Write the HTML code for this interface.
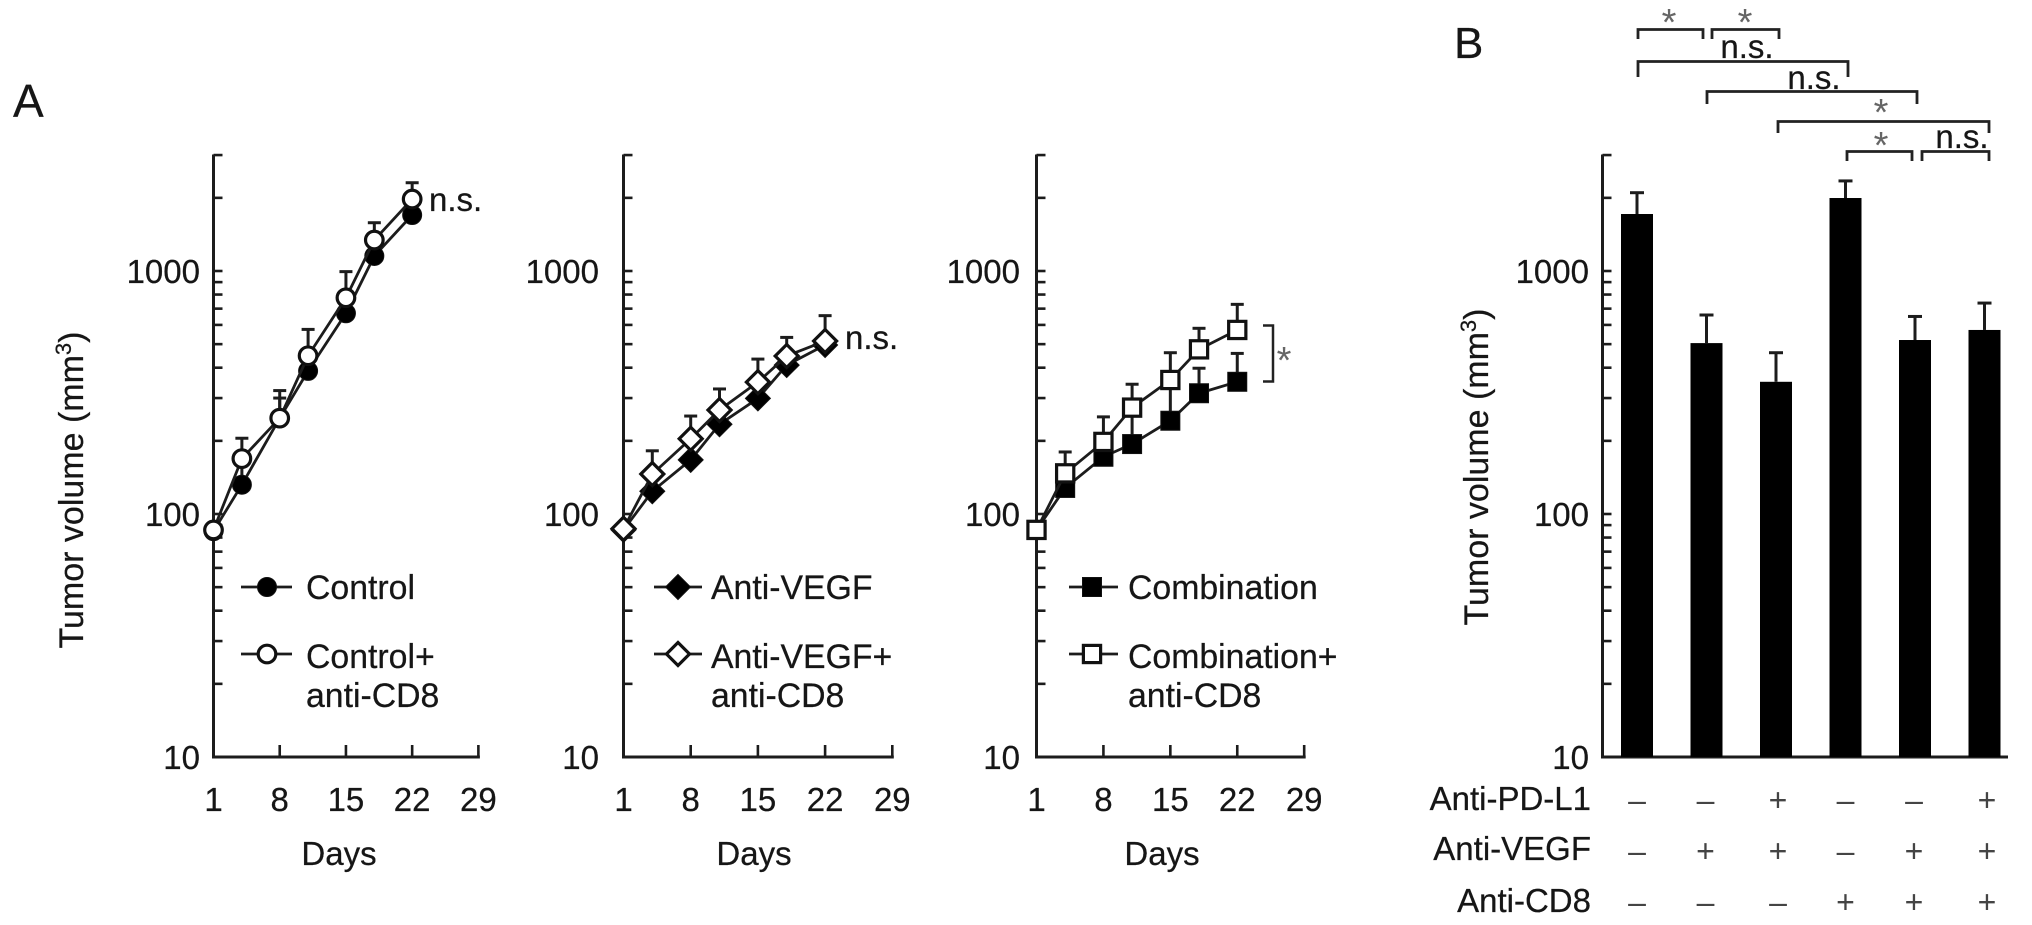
<!DOCTYPE html>
<html lang="en">
<head>
<meta charset="utf-8">
<title>Tumor volume charts</title>
<style>
html,body{margin:0;padding:0;background:#fff;}
svg{display:block;}
text{font-family:"Liberation Sans",Arial,sans-serif;fill:#161616;stroke:#161616;stroke-width:.25;}
</style>
</head>
<body>
<svg id="fig" xmlns="http://www.w3.org/2000/svg" width="2032" height="925" viewBox="0 0 2032 925">
  <rect x="0" y="0" width="2032" height="925" fill="#fff"/>
  <text x="13" y="117" font-size="46">A</text>
  <text x="1454" y="58" font-size="44">B</text>

  <text x="429" y="211" font-size="33">n.s.</text>
  <text x="845" y="349" font-size="33">n.s.</text>
  <path d="M1263 325.5H1273V381.5H1263" fill="none" stroke="#222" stroke-width="2.5"/>
  <text x="1284" y="373" font-size="38" text-anchor="middle" style="fill:#666;stroke:none">*</text>

  <g fill="none" stroke="#222" stroke-width="2.8">
    <path d="M1638 39V29.5H1703V39"/>
    <path d="M1712 39V29.5H1779V39"/>
    <path d="M1638 77V61.5H1848V77"/>
    <path d="M1707 104V91.5H1917V104"/>
    <path d="M1778 133V121.5H1989V133"/>
    <path d="M1847 161V151.5H1912V161"/>
    <path d="M1922 161V151.5H1989V161"/>
  </g>
  <text x="1669" y="35" font-size="38" text-anchor="middle" style="fill:#666;stroke:none">*</text>
  <text x="1745" y="35" font-size="38" text-anchor="middle" style="fill:#666;stroke:none">*</text>
  <text x="1747" y="58" font-size="33" text-anchor="middle">n.s.</text>
  <text x="1814" y="89" font-size="33" text-anchor="middle">n.s.</text>
  <text x="1881" y="125" font-size="38" text-anchor="middle" style="fill:#666;stroke:none">*</text>
  <text x="1881" y="158" font-size="38" text-anchor="middle" style="fill:#666;stroke:none">*</text>
  <text x="1962" y="148" font-size="33" text-anchor="middle">n.s.</text>

  <text x="1591" y="810" font-size="33" text-anchor="end">Anti-PD-L1</text>
  <text x="1591" y="860" font-size="33" text-anchor="end">Anti-VEGF</text>
  <text x="1591" y="912" font-size="33" text-anchor="end">Anti-CD8</text>
</svg>
<script>
const days = [1, 4, 8, 11, 15, 18, 22];
const xTickLabels = [1, 8, 15, 22, 29];
const yLabelTicks = [10, 100, 1000];
const yMinorTicks = [20, 30, 40, 50, 60, 70, 80, 90, 100, 200, 300, 400, 500, 600, 700, 800, 900, 1000, 2000, 3000];

const controlValues = [85, 132, 248, 388, 670, 1153, 1700];
const controlErrTops = [85, 165, 300, 440, 770, 1340, 1970];
const controlCd8Values = [86, 169, 248, 448, 776, 1341, 1977];
const controlCd8ErrTops = [86, 205, 322, 575, 994, 1580, 2308];

const vegfValues = [86, 124, 167, 234, 299, 410, 496];
const vegfErrTops = [86, 146, 204, 268, 349, 447, 515];
const vegfCd8Values = [87, 146, 204, 268, 349, 447, 515];
const vegfCd8ErrTops = [87, 182, 253, 327, 434, 533, 655];

const comboValues = [86, 128, 172, 194, 242, 314, 350];
const comboErrTops = [86, 147, 198, 274, 356, 398, 458];
const comboCd8Values = [86, 147, 198, 274, 356, 476, 572];
const comboCd8ErrTops = [86, 180, 251, 342, 461, 581, 729];

const barGroups = ['control', 'anti-vegf', 'combination-no-cd8', 'anti-cd8', 'vegf-cd8', 'combination-cd8'];
const barValues = [1716, 505, 350, 1997, 520, 572];
const barErrTops = [2100, 659, 461, 2348, 650, 738];
const antiPdL1Signs = ['–', '–', '+', '–', '–', '+'];
const antiVegfSigns = ['–', '+', '+', '–', '+', '+'];
const antiCd8Signs = ['–', '–', '–', '+', '+', '+'];

const svg = document.getElementById('fig');
const NS = 'http://www.w3.org/2000/svg';
const INK = '#1c1c1c';

function yPos(v) { return 757 - 243 * (Math.log10(v) - 1); }

function make(tag, attrs, name, parent) {
  const el = document.createElementNS(NS, tag);
  for (const k in attrs) el.setAttribute(k, attrs[k]);
  
  
  (parent || svg).appendChild(el);
  return el;
}
function line(x1, y1, x2, y2, w, name, parent) {
  return make('line', { x1: x1, y1: y1, x2: x2, y2: y2, stroke: INK, 'stroke-width': w, 'stroke-linecap': 'butt' }, name, parent);
}
function label(x, y, str, size, anchor, name, parent) {
  const t = make('text', { x: x, y: y, 'font-size': size, 'text-anchor': anchor }, name, parent);
  t.textContent = str;
  return t;
}
function marker(shape, filled, cx, cy, name, parent) {
  const fill = filled ? '#000' : '#fff';
  const sw = filled ? 1 : 3.2;
  const a = { fill: fill, stroke: '#111', 'stroke-width': sw };
  if (shape === 'circle') {
    a.cx = cx; a.cy = cy; a.r = filled ? 9.5 : 8.8;
    return make('circle', a, name, parent);
  }
  if (shape === 'diamond') {
    const r = filled ? 12.5 : 11.5;
    a.points = [cx, cy - r, cx + r, cy, cx, cy + r, cx - r, cy].join(',');
    return make('polygon', a, name, parent);
  }
  const s = filled ? 9.5 : 8.6;
  a.x = cx - s; a.y = cy - s; a.width = 2 * s; a.height = 2 * s;
  return make('rect', a, name, parent);
}
function yTitle(x, y, prefix, parent) {
  const t = make('text', { x: 0, y: 0, 'font-size': 34, 'text-anchor': 'middle', transform: 'translate(' + x + ',' + y + ') rotate(-90)' }, prefix + '-y-axis-title', parent);
  t.appendChild(document.createTextNode('Tumor volume (mm'));
  const sup = document.createElementNS(NS, 'tspan');
  sup.setAttribute('font-size', '22');
  sup.setAttribute('dy', '-12');
  sup.textContent = '3';
  t.appendChild(sup);
  const close = document.createElementNS(NS, 'tspan');
  close.setAttribute('dy', '12');
  close.textContent = ')';
  t.appendChild(close);
}
function yAxis(g, x, labelRight, prefix) {
  line(x, 154.5, x, 758, 3, prefix + '-y-axis-line', g);
  yMinorTicks.forEach(function (v) {
    line(x, yPos(v), x + 9, yPos(v), 2.6, prefix + '-y-tick-' + v, g);
  });
  yLabelTicks.forEach(function (v) {
    label(labelRight, yPos(v) + 12, String(v), 33, 'end', prefix + '-y-label-' + v, g);
  });
}
function series(g, xOf, values, tops, shape, filled, prefix) {
  values.forEach(function (v, i) {
    if (tops[i] > v) {
      line(xOf(days[i]), yPos(v), xOf(days[i]), yPos(tops[i]), 3, prefix + '-error-stem', g);
      line(xOf(days[i]) - 6.5, yPos(tops[i]), xOf(days[i]) + 6.5, yPos(tops[i]), 3, prefix + '-error-cap', g);
    }
  });
  make('polyline', {
    points: values.map(function (v, i) { return xOf(days[i]) + ',' + yPos(v); }).join(' '),
    fill: 'none', stroke: INK, 'stroke-width': 2.8
  }, prefix + '-line', g);
  values.forEach(function (v, i) {
    marker(shape, filled, xOf(days[i]), yPos(v), prefix + '-point-day-' + days[i], g);
  });
}
function panel(o) {
  const g = make('g', {}, o.prefix + '-line-chart');
  const xOf = function (d) { return o.axisX + o.perDay * (d - 1); };
  yAxis(g, o.axisX, o.labelRight, o.prefix);
  line(o.axisX - 1.5, 757, xOf(29) + 1.5, 757, 3, o.prefix + '-x-axis-line', g);
  xTickLabels.forEach(function (d) {
    if (d > 1) line(xOf(d), 757, xOf(d), 745, 2.6, o.prefix + '-x-tick-' + d, g);
    label(xOf(d), 811, String(d), 33, 'middle', o.prefix + '-x-label-' + d, g);
  });
  label(o.daysX, 865, 'Days', 33, 'middle', o.prefix + '-x-axis-title', g);
  series(g, xOf, o.filled, o.filledTops, o.shape, true, o.prefix + '-treated');
  series(g, xOf, o.open, o.openTops, o.shape, false, o.prefix + '-cd8');
  line(o.legendX1, 587, o.legendX2, 587, 2.8, o.prefix + '-legend-line-1', g);
  marker(o.shape, true, o.legendM, 587, o.prefix + '-legend-marker-1', g);
  label(o.legendText, 599, o.name1, 33.8, 'start', o.prefix + '-legend-entry-1', g);
  line(o.legendX1, 654, o.legendX2, 654, 2.8, o.prefix + '-legend-line-2', g);
  marker(o.shape, false, o.legendM, 654, o.prefix + '-legend-marker-2', g);
  label(o.legendText, 668, o.name1 + '+', 33.8, 'start', o.prefix + '-legend-entry-2', g);
  label(o.legendText, 707, 'anti-CD8', 33.8, 'start', o.prefix + '-legend-entry-2-line-2', g);
}

yTitle(83, 490, 'panel-a', svg);

panel({ prefix: 'control', axisX: 213.5, perDay: 9.46, labelRight: 200, daysX: 339, shape: 'circle',
  filled: controlValues, filledTops: controlErrTops, open: controlCd8Values, openTops: controlCd8ErrTops,
  legendX1: 241, legendX2: 292, legendM: 267, legendText: 306, name1: 'Control' });
panel({ prefix: 'anti-vegf', axisX: 623.5, perDay: 9.6, labelRight: 599, daysX: 754, shape: 'diamond',
  filled: vegfValues, filledTops: vegfErrTops, open: vegfCd8Values, openTops: vegfCd8ErrTops,
  legendX1: 654, legendX2: 702, legendM: 678, legendText: 711, name1: 'Anti-VEGF' });
panel({ prefix: 'combination', axisX: 1036.5, perDay: 9.56, labelRight: 1020, daysX: 1162, shape: 'square',
  filled: comboValues, filledTops: comboErrTops, open: comboCd8Values, openTops: comboCd8ErrTops,
  legendX1: 1069, legendX2: 1118, legendM: 1092, legendText: 1128, name1: 'Combination' });

const barChart = make('g', {}, 'bar-chart');
const barAxisX = 1602.5;
function barX(i) { return 1637 + 69.5 * i; }
yAxis(barChart, barAxisX, 1589, 'bar-chart');
yTitle(1488, 467, 'bar-chart', barChart);
line(barAxisX - 1.5, 757, 2008, 757, 3, 'bar-chart-x-axis-line', barChart);
barValues.forEach(function (v, i) {
  const cx = barX(i);
  make('rect', { x: cx - 16, y: yPos(v), width: 32, height: 757 - yPos(v), fill: '#000' }, 'bar-' + barGroups[i], barChart);
  line(cx, yPos(v), cx, yPos(barErrTops[i]), 3, 'bar-error-stem-' + barGroups[i], barChart);
  line(cx - 7, yPos(barErrTops[i]), cx + 7, yPos(barErrTops[i]), 3, 'bar-error-cap-' + barGroups[i], barChart);
});
function signColumn(i) { return [1637, 1705.5, 1778, 1845.5, 1914, 1987][i]; }
function signRow(signs, baseline, prefix) {
  signs.forEach(function (s, i) {
    const t = label(signColumn(i), baseline, s, 32, 'middle', prefix + '-sign-' + barGroups[i], barChart);
    t.style.fill = '#444';
    t.style.stroke = 'none';
  });
}
signRow(antiPdL1Signs, 811, 'anti-pd-l1');
signRow(antiVegfSigns, 862, 'anti-vegf');
signRow(antiCd8Signs, 913, 'anti-cd8');
</script>
</body>
</html>
